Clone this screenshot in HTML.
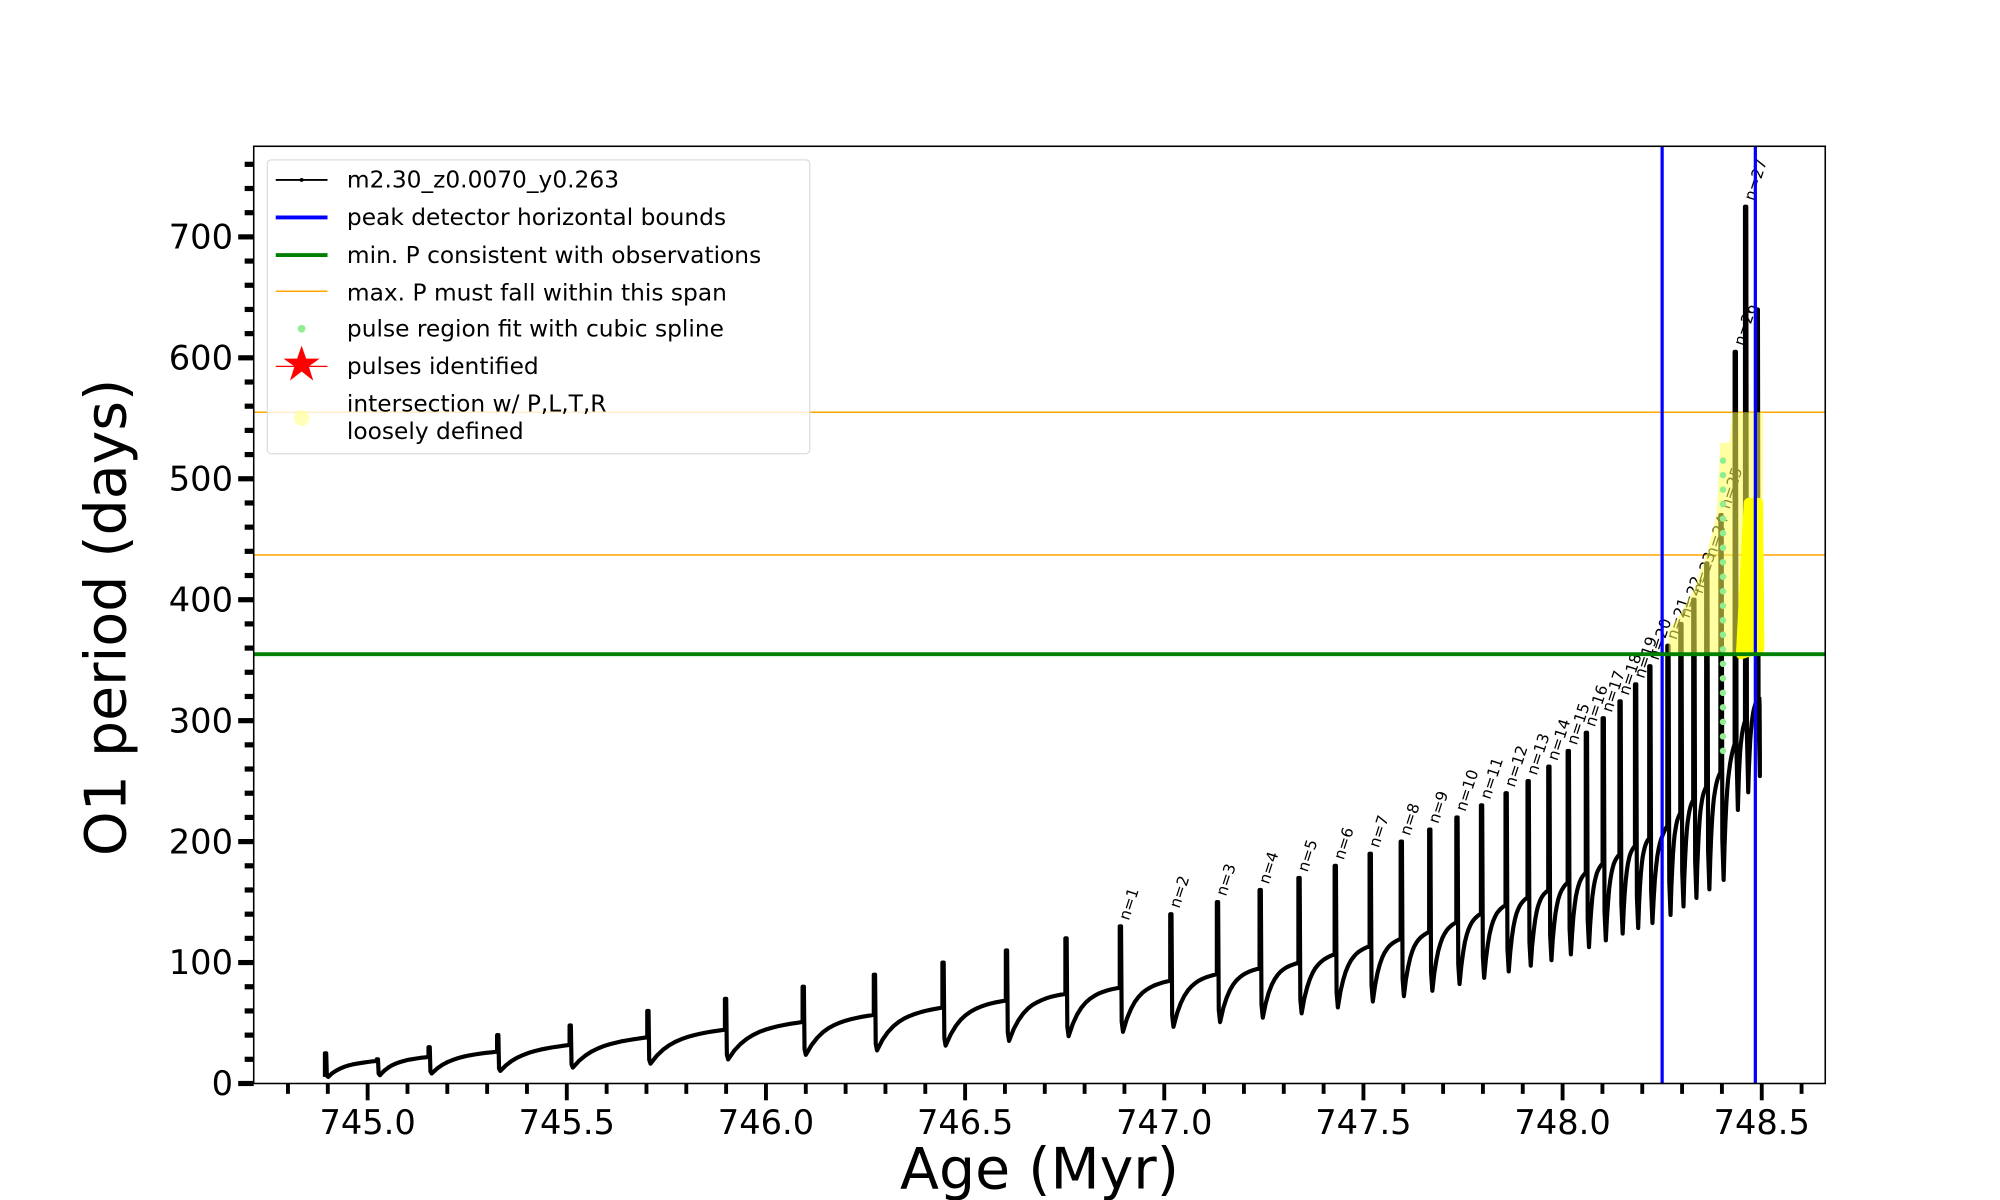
<!DOCTYPE html>
<html><head><meta charset="utf-8">
<style>
html,body{margin:0;padding:0;background:#fff;}
svg{display:block;}
text{font-family:"DejaVu Sans","Liberation Sans",sans-serif;fill:#000;}
</style></head>
<body>
<svg id="s" width="2000" height="1200" viewBox="0 0 1545 927" preserveAspectRatio="none" xmlns="http://www.w3.org/2000/svg">
<rect x="0" y="0" width="1545" height="927" fill="#fff"/>
<g id="data"></g>
<path d="M1289,505 L1289,487 L1299,473 L1309,454 L1319,426 L1326,398 L1329,342 L1336,342 L1338,318.5 L1362,318.5 L1362,505 Z" fill="#ffff55" fill-opacity="0.55"/>
<g id="top"></g>
<rect x="196" y="113" width="1214" height="724" fill="none" stroke="#000" stroke-width="1.2"/>
<g id="ticks"></g>
<text x="97" y="477" font-size="44" text-anchor="middle" transform="rotate(-90 97 477)">O1 period (days)</text>
<text x="803" y="918" font-size="44" text-anchor="middle">Age (Myr)</text>
<g>
<rect x="206.5" y="123.5" width="419" height="227" rx="3" fill="#fff" fill-opacity="0.8" stroke="#ddd"/>
<line x1="213" y1="139" x2="253" y2="139" stroke="#000" stroke-width="1.5"/><circle cx="233" cy="139" r="1.5"/>
<text x="268" y="145" font-size="18">m2.30_z0.0070_y0.263</text>
<line x1="213" y1="168" x2="253" y2="168" stroke="#0000ff" stroke-width="3"/>
<text x="268" y="174" font-size="18">peak detector horizontal bounds</text>
<line x1="213" y1="197" x2="253" y2="197" stroke="#008000" stroke-width="3"/>
<text x="268" y="203" font-size="18">min. P consistent with observations</text>
<line x1="213" y1="225" x2="253" y2="225" stroke="#ffa500" stroke-width="1.2"/>
<text x="268" y="232" font-size="18">max. P must fall within this span</text>
<circle cx="233" cy="254" r="3" fill="#90ee90"/>
<text x="268" y="260" font-size="18">pulse region fit with cubic spline</text>
<polygon points="233,267 236.5,277 247,277 238.5,283 242,294 233,287 224,294 227.5,283 219,277 229.5,277" fill="#ff0000"/>
<line x1="213" y1="283" x2="253" y2="283" stroke="#ff0000" stroke-width="1"/>
<text x="268" y="289" font-size="18">pulses identified</text>
<circle cx="233" cy="323" r="6" fill="#ffff99" fill-opacity="0.7"/>
<text x="268" y="318" font-size="18">intersection w/ P,L,T,R</text>
<text x="268" y="339" font-size="18">loosely defined</text>
</g>
</svg>
<script>
var NS="http://www.w3.org/2000/svg";
function el(t,a,p){var e=document.createElementNS(NS,t);for(var k in a)e.setAttribute(k,a[k]);(p||document.getElementById('data')).appendChild(e);return e;}
var TOP=document.getElementById('top');
function Y(v){return 837-0.9343*v;}
function X(a){return 284+(a-745)*307.7;}
var T=document.getElementById('ticks');
for(var v=0;v<=760;v+=20){var y=Y(v);var maj=v%100==0;el('line',{x1:maj?184:189,x2:196,y1:y,y2:y,stroke:'#000','stroke-width':4},T);
 if(maj){var t=el('text',{x:180,y:y+9,'font-size':26,'text-anchor':'end'},T);t.textContent=v;}}
for(var i=-2;i<=36;i++){var a=745+i*0.1;var x=X(a);var maj=(i%5==0);if(x<197||x>1409)continue;
 el('line',{x1:x,x2:x,y1:837,y2:maj?850:845,stroke:'#000','stroke-width':3},T);
 if(maj){var t=el('text',{x:x,y:876,'font-size':26,'text-anchor':'middle'},T);t.textContent=a.toFixed(1);}}
el('line',{x1:196,x2:1410,y1:Y(555),y2:Y(555),stroke:'#ffa500','stroke-width':1.2});
el('line',{x1:196,x2:1410,y1:Y(437),y2:Y(437),stroke:'#ffa500','stroke-width':1.2});
var bp=[[245,15],[400,28],[560,45],[700,60],[865,80],[1000,100],[1100,125],[1207,165],[1284,210],[1330,260],[1352,310],[1365,330]];
function base(x){for(var i=0;i<bp.length-1;i++){if(x<=bp[i+1][0]){var f=(x-bp[i][0])/(bp[i+1][0]-bp[i][0]);return bp[i][1]+f*(bp[i+1][1]-bp[i][1]);}}return bp[bp.length-1][1];}
var sp=[[251,25],[291,20],[331,30],[384,40],[440,48],[500,60],[560,70],[620,80],[675,90],[728,100],[777,110],[823,120],
[865,130],[904,140],[940,150],[973,160],[1003,170],[1031,180],[1058,190],[1082,200],[1104,210],[1125,220],[1144,230],[1163,240],[1180,250],[1196,262],[1211,275],[1225,290],[1238,302],[1251,316],[1263,330],
[1274,345],[1288,362],[1298,380],[1308,400],[1318,430],[1329,470],[1340,605],[1348,725],[1357,640]];
var d='';
for(var i=0;i<sp.length;i++){
 var x0=sp[i][0],pk=sp[i][1];var x1=(i<sp.length-1)?sp[i+1][0]:1359;
 var b0=base(x0);var mn=b0*(0.35+0.3*Math.min(1,(x0-251)/1000));
 if(i>=sp.length-3)mn=b0*0.8;
 d+=(i==0?'M':'L')+x0+','+Y(i==0?mn:b0)+' L'+x0+','+Y(pk)+' L'+(x0+1)+','+Y(pk)+' L'+(x0+1.5)+','+Y(mn*1.2)+' L'+(x0+2.5)+','+Y(mn);
 var L=x1-x0-2.5;
 for(var k=1;k<=12;k++){var xx=x0+2.5+L*k/12;var bb=base(xx);var v=bb-(bb-mn)*Math.exp(-4*k/12);d+=' L'+xx.toFixed(1)+','+Y(v).toFixed(1);}
 if(i>=12&&i<=38){var n=i-11;var lx=x0+7,ly=Y(pk)-4;var t=el('text',{x:lx,y:ly,'font-size':12,transform:'rotate(-72 '+lx+' '+ly+')'});t.textContent='n='+n;}
}
el('path',{d:d,fill:'none',stroke:'#000','stroke-width':3.2,'stroke-linejoin':'round'});
for(var v=275;v<=525;v+=12){el('circle',{cx:1331,cy:Y(v),r:2.5,fill:'#90ee90'},TOP);}
el('path',{d:'M1345,'+Y(355)+' L1351,'+Y(480)+' L1358,'+Y(480)+' L1359,'+Y(360)+' Z',fill:'#ffff00',stroke:'#ffff00','stroke-width':8,'stroke-linejoin':'round'},TOP);
el('line',{x1:1284,x2:1284,y1:113,y2:837,stroke:'#0000ff','stroke-width':2.5},TOP);
el('line',{x1:1356,x2:1356,y1:113,y2:837,stroke:'#0000ff','stroke-width':2.5},TOP);
el('line',{x1:196,x2:1410,y1:Y(355),y2:Y(355),stroke:'#008000','stroke-width':3},TOP);
</script>
</body></html>
